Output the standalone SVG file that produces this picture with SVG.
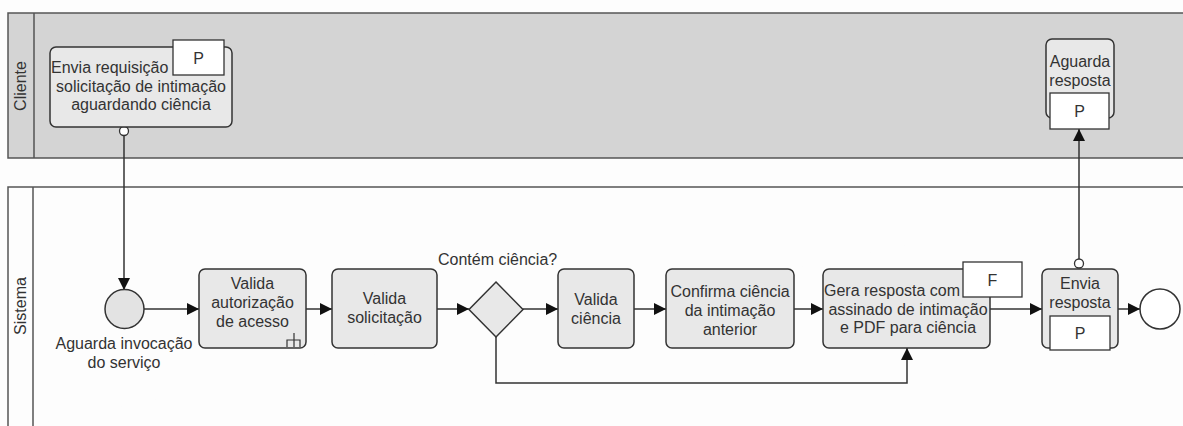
<svg xmlns="http://www.w3.org/2000/svg" width="1183" height="426" viewBox="0 0 1183 426">
<defs>
<style>
.lane{fill:#d4d4d4;stroke:#555;stroke-width:1.5}
.lane2{fill:#fdfdfd;stroke:#555;stroke-width:1.5}
.task{fill:#e8e8e8;stroke:#333;stroke-width:1.5}
.box{fill:#fff;stroke:#333;stroke-width:1.3}
.ev{fill:#e3e3e3;stroke:#333;stroke-width:1.5}
.flow{fill:none;stroke:#333;stroke-width:1.5}
text{font-family:"Liberation Sans",Arial,sans-serif;font-size:16px;fill:#333}
.c{text-anchor:middle}
</style>
<marker id="arr" viewBox="0 0 10 10" refX="10" refY="5" markerWidth="10" markerHeight="10" markerUnits="userSpaceOnUse" orient="auto">
<path d="M0,0 L10,5 L0,10 z" fill="#111"/>
</marker>
<marker id="arrL" viewBox="0 0 12 12" refX="12" refY="6" markerWidth="12" markerHeight="12" markerUnits="userSpaceOnUse" orient="auto">
<path d="M0,0 L12,6 L0,12 z" fill="#111"/>
</marker>
</defs>
<rect width="1183" height="426" fill="#fdfdfd"/>
<g id="lane-cliente">
<rect class="lane" x="8" y="13" width="1190" height="145"/>
<line x1="34" y1="13" x2="34" y2="158" stroke="#555" stroke-width="1.5"/>
<text class="c" transform="translate(26,86) rotate(-90)">Cliente</text>
</g>
<g id="lane-sistema">
<path d="M1190 187 H8 V430" class="lane2"/>
<line x1="33" y1="187" x2="33" y2="430" stroke="#555" stroke-width="1.5"/>
<text class="c" transform="translate(26,306) rotate(-90)">Sistema</text>
</g>
<g id="connectors">
<circle cx="124" cy="131" r="4.5" fill="#fff" stroke="#333" stroke-width="1.3"/>
<path class="flow" d="M124 135.5 V290" marker-end="url(#arrL)"/>
<path class="flow" d="M144 309 H199" marker-end="url(#arrL)"/>
<path class="flow" d="M306 309 H332" marker-end="url(#arrL)"/>
<path class="flow" d="M437 309 H469" marker-end="url(#arrL)"/>
<path class="flow" d="M523 309 H558" marker-end="url(#arrL)"/>
<path class="flow" d="M634 309 H666" marker-end="url(#arrL)"/>
<path class="flow" d="M794 309 H823" marker-end="url(#arrL)"/>
<path class="flow" d="M990 309 H1042" marker-end="url(#arrL)"/>
<path class="flow" d="M1118 309 H1140" marker-end="url(#arrL)"/>
<path class="flow" d="M496 337 V383 H907 V348" marker-end="url(#arrL)"/>
<circle cx="1079" cy="263.5" r="4.5" fill="#fff" stroke="#333" stroke-width="1.3"/>
<path class="flow" d="M1079 259 V129" marker-end="url(#arrL)"/>
</g>
<g id="envia-requisicao">
<rect class="task" x="50" y="47" width="182" height="80" rx="6"/>
<rect class="box" x="173" y="40" width="51" height="35"/>
<text class="c" x="198.5" y="64">P</text>
<text x="51" y="73">Envia requisição</text>
<text class="c" x="141" y="92">solicitação de intimação</text>
<text class="c" x="141" y="110">aguardando ciência</text>
</g>
<g id="aguarda-resposta">
<rect class="task" x="1046" y="39" width="68" height="79" rx="6"/>
<text class="c" x="1080" y="67">Aguarda</text>
<text class="c" x="1080" y="86">resposta</text>
<rect class="box" x="1050" y="93" width="59" height="36"/>
<text class="c" x="1079.5" y="117">P</text>
</g>
<g id="start">
<circle class="ev" cx="124.5" cy="309" r="19.5"/>
<text class="c" x="124" y="349">Aguarda invocação</text>
<text class="c" x="124" y="368">do serviço</text>
</g>
<g id="valida-autorizacao">
<rect class="task" x="199" y="269" width="107" height="79" rx="6"/>
<text class="c" x="252.5" y="289">Valida</text>
<text class="c" x="252.5" y="308">autorização</text>
<text class="c" x="252.5" y="327">de acesso</text>
<path d="M294 333 V347 M287 347 V340 H300 V347" fill="none" stroke="#333" stroke-width="1.2"/>
</g>
<g id="valida-solicitacao">
<rect class="task" x="332" y="269" width="105" height="79" rx="6"/>
<text class="c" x="384.5" y="304">Valida</text>
<text class="c" x="384.5" y="323">solicitação</text>
</g>
<g id="gateway">
<polygon points="496,282 523,309.5 496,337 469,309.5" class="task"/>
<text x="438" y="265">Contém ciência?</text>
</g>
<g id="valida-ciencia">
<rect class="task" x="558" y="269" width="76" height="79" rx="6"/>
<text class="c" x="596" y="305">Valida</text>
<text class="c" x="596" y="324">ciência</text>
</g>
<g id="confirma-ciencia">
<rect class="task" x="666" y="269" width="128" height="79" rx="6"/>
<text class="c" x="730" y="297">Confirma ciência</text>
<text class="c" x="730" y="316">da intimação</text>
<text class="c" x="730" y="335">anterior</text>
</g>
<g id="gera-resposta">
<rect class="task" x="823" y="269" width="167" height="79" rx="6"/>
<rect class="box" x="963" y="262" width="59" height="35"/>
<text class="c" x="992.5" y="286">F</text>
<text x="824" y="296">Gera resposta com</text>
<text class="c" x="908" y="315">assinado de intimação</text>
<text class="c" x="908" y="333">e PDF para ciência</text>
</g>
<g id="envia-resposta">
<rect class="task" x="1042" y="269" width="76" height="79" rx="6"/>
<text class="c" x="1080" y="289">Envia</text>
<text class="c" x="1080" y="308">resposta</text>
<rect class="box" x="1050" y="316" width="60" height="34"/>
<text class="c" x="1080" y="339">P</text>
</g>
<g id="end">
<circle cx="1160" cy="309" r="20" fill="#fff" stroke="#333" stroke-width="1.5"/>
</g>
</svg>
